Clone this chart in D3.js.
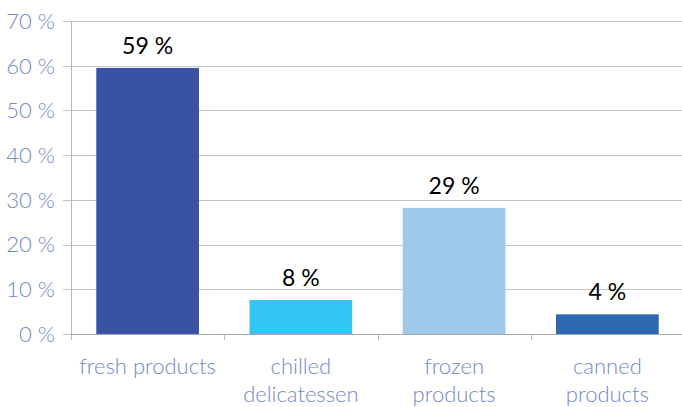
<!DOCTYPE html>
<html>
<head>
<meta charset="utf-8">
<script src="https://cdn.jsdelivr.net/npm/d3@7"></script>
<style>
  body { margin: 0; background: #fff; }
  svg text { font-family: Lato, "Open Sans", sans-serif; }
</style>
</head>
<body>
<svg id="chart"></svg>
<script>
var categories = [["fresh products"], ["chilled", "delicatessen"], ["frozen", "products"], ["canned", "products"]];
var shares = [59.5, 7.6, 28.2, 4.4];
var shareLabels = ["59 %", "8 %", "29 %", "4 %"];
var barColors = ["#3953a4", "#33c6f4", "#9fc9ea", "#2e68b1"];
var yTicks = [0, 10, 20, 30, 40, 50, 60, 70];

var width = 682,
    height = 407;

var margin = {left: 71, right: -2, top: 21, bottom: 73};

var svg = d3.select("#chart")
  .attr("width", width)
  .attr("height", height);

var x = d3.scaleBand()
  .domain(d3.range(categories.length))
  .range([margin.left, width - margin.right])
  .paddingInner(0.33)
  .paddingOuter(0.165);

// band boundaries for ticks (no padding)
var xb = d3.scaleBand()
  .domain(d3.range(categories.length))
  .range([margin.left, width - margin.right]);

var y = d3.scaleLinear()
  .domain([0, 70])
  .range([height - margin.bottom, margin.top]);

// gridlines
svg.append("g")
  .selectAll("line")
  .data(yTicks)
  .enter().append("line")
    .attr("x1", margin.left - 8)
    .attr("x2", width)
    .attr("y1", function(d) { return Math.round(y(d)) + 0.5; })
    .attr("y2", function(d) { return Math.round(y(d)) + 0.5; })
    .style("stroke", "#c4c4c4")
    .style("stroke-width", 1);

// y labels
svg.append("g")
  .selectAll("text")
  .data(yTicks)
  .enter().append("text")
    .attr("x", 55)
    .attr("y", function(d) { return y(d); })
    .attr("dy", "0.36em")
    .attr("text-anchor", "end")
    .style("font-size", "22px")
    .style("font-weight", 300)
    .style("fill", "#7489c9")
    .text(function(d) { return d + " %"; });

// y axis line
svg.append("line")
  .attr("x1", margin.left + 0.5)
  .attr("x2", margin.left + 0.5)
  .attr("y1", y(70))
  .attr("y2", y(0) + 6)
  .style("stroke", "#b8b8b8");

// bars
svg.append("g")
  .selectAll("rect")
  .data(shares)
  .enter().append("rect")
    .attr("x", function(d, i) { return x(i); })
    .attr("y", function(d) { return y(d); })
    .attr("width", x.bandwidth())
    .attr("height", function(d) { return y(0) - y(d); })
    .style("fill", function(d, i) { return barColors[i]; });

// x axis line + ticks
svg.append("line")
  .attr("x1", margin.left)
  .attr("x2", width)
  .attr("y1", Math.round(y(0)) + 0.5)
  .attr("y2", Math.round(y(0)) + 0.5)
  .style("stroke", "#a8a8a8");

svg.append("g")
  .selectAll("line")
  .data(d3.range(1, categories.length))
  .enter().append("line")
    .attr("x1", function(i) { return Math.round(xb(i)) + 0.5; })
    .attr("x2", function(i) { return Math.round(xb(i)) + 0.5; })
    .attr("y1", y(0))
    .attr("y2", y(0) + 6)
    .style("stroke", "#b8b8b8");

// value labels
svg.append("g")
  .selectAll("text")
  .data(shares)
  .enter().append("text")
    .attr("x", function(d, i) { return x(i) + x.bandwidth() / 2; })
    .attr("y", function(d) { return y(d) - 14; })
    .attr("text-anchor", "middle")
    .style("font-size", "23px")
    .style("fill", "#000")
    .text(function(d, i) { return shareLabels[i]; });

// category labels
var cat = svg.append("g")
  .selectAll("text")
  .data(categories)
  .enter().append("text")
    .attr("text-anchor", "middle")
    .attr("x", function(d, i) { return x(i) + x.bandwidth() / 2; })
    .attr("y", y(0) + 40)
    .style("font-size", "22px")
    .style("font-weight", 300)
    .style("fill", "#7489c9");

cat.selectAll("tspan")
  .data(function(d) { return d; })
  .enter().append("tspan")
    .attr("x", function() { return d3.select(this.parentNode).attr("x"); })
    .attr("dy", function(d, i) { return i === 0 ? 0 : 28; })
    .text(function(d) { return d; });
</script>
</body>
</html>
